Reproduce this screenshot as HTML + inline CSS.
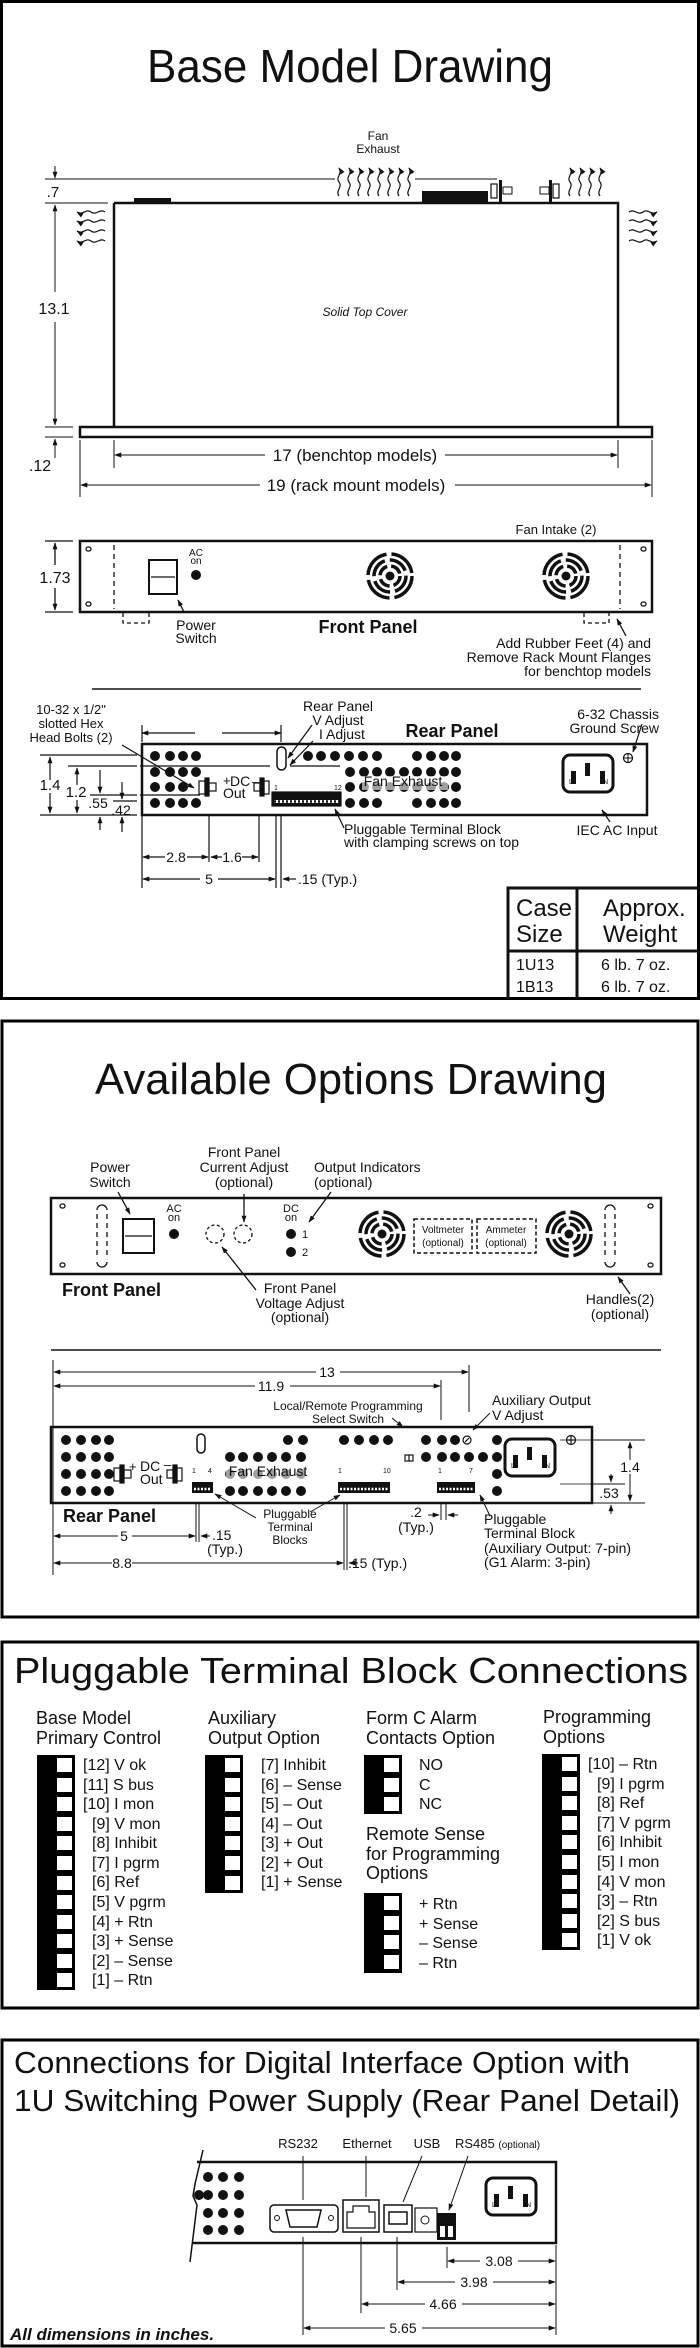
<!DOCTYPE html>
<html><head><meta charset="utf-8"><style>html,body{margin:0;padding:0;background:#fff}svg{display:block}</style></head><body>
<svg width="700" height="2348" viewBox="0 0 700 2348" xmlns="http://www.w3.org/2000/svg" font-family="Liberation Sans, sans-serif" fill="#111">
<defs>
<marker id="a" viewBox="0 0 10 10" refX="9" refY="5" markerWidth="7" markerHeight="7" orient="auto-start-reverse" markerUnits="userSpaceOnUse"><path d="M0,1.5 L10,5 L0,8.5 z" fill="#111"/></marker>
<g id="fan"><circle r="4.5" fill="#111"/><circle r="10" fill="none" stroke="#111" stroke-width="3.5" stroke-dasharray="12 4"/><circle r="16" fill="none" stroke="#111" stroke-width="3.5" stroke-dasharray="20 5"/><circle r="22" fill="none" stroke="#111" stroke-width="3.5" stroke-dasharray="30 5"/></g>
<path id="wu" d="M0,30 c-4,-5 4,-9 0,-14 c-4,-5 4,-8 0,-14" fill="none" stroke="#111" stroke-width="1.2" marker-end="url(#a)"/>
<path id="wl" d="M30,0 c-5,-4 -9,4 -14,0 c-5,-4 -8,4 -14,0" fill="none" stroke="#111" stroke-width="1.2" marker-end="url(#a)"/>
<path id="wr" d="M0,0 c5,-4 9,4 14,0 c5,-4 8,4 14,0" fill="none" stroke="#111" stroke-width="1.2" marker-end="url(#a)"/>
<g id="iec"><rect x="0" y="0" width="50" height="37" rx="7" fill="none" stroke="#111" stroke-width="3"/><rect x="8" y="16" width="5" height="13" fill="#111"/><rect x="22" y="8" width="5" height="13" fill="#111"/><rect x="37" y="16" width="5" height="13" fill="#111"/><text x="6" y="29" font-size="7">L</text><text x="40" y="29" font-size="7">N</text></g>
</defs>

<!-- ============ SECTION 1 ============ -->
<rect x="1.5" y="1.5" width="697" height="997" fill="none" stroke="#000" stroke-width="3"/>
<text x="350" y="82" font-size="46" text-anchor="middle" textLength="406" lengthAdjust="spacingAndGlyphs">Base Model Drawing</text>

<text x="378" y="140" font-size="12" text-anchor="middle">Fan</text>
<text x="378" y="153" font-size="12" text-anchor="middle">Exhaust</text>
<g>
<use href="#wu" x="339" y="166"/><use href="#wu" x="349" y="166"/><use href="#wu" x="359" y="166"/><use href="#wu" x="369" y="166"/><use href="#wu" x="379" y="166"/><use href="#wu" x="389" y="166"/><use href="#wu" x="399" y="166"/><use href="#wu" x="409" y="166"/>
<use href="#wu" x="570" y="166"/><use href="#wu" x="580" y="166"/><use href="#wu" x="590" y="166"/><use href="#wu" x="600" y="166"/>
<use href="#wl" x="75" y="212"/><use href="#wl" x="75" y="221"/><use href="#wl" x="75" y="231"/><use href="#wl" x="75" y="241"/>
<use href="#wr" x="629" y="212"/><use href="#wr" x="629" y="221"/><use href="#wr" x="629" y="231"/><use href="#wr" x="629" y="241"/>
</g>
<path d="M114,203 H618 V427 M114,203 V427 M80,427 H652 V437 H80 Z" fill="none" stroke="#111" stroke-width="2.5"/>
<rect x="134" y="198" width="37" height="5"/><rect x="422" y="191" width="66" height="12"/>
<rect x="491" y="184" width="6" height="14" fill="none" stroke="#111" stroke-width="1.2"/><rect x="499" y="180" width="3" height="23"/><rect x="503" y="187" width="9" height="7" fill="none" stroke="#111"/>
<rect x="540" y="187" width="9" height="7" fill="none" stroke="#111"/><rect x="549" y="180" width="3" height="23"/><rect x="553" y="184" width="6" height="14" fill="none" stroke="#111" stroke-width="1.2"/>
<text x="365" y="316" font-size="12" font-style="italic" text-anchor="middle">Solid Top Cover</text>
<g stroke="#111" stroke-width="1" fill="none">
<path d="M45,179 H335 M415,179 H497 M45,203 H108 M45,427 H73 M45,437 H73"/>
<path d="M55,166 V178" marker-end="url(#a)"/>
<path d="M55,205 V292 M55,322 V425" marker-start="url(#a)" marker-end="url(#a)"/>
<path d="M55,458 V439" marker-end="url(#a)"/>
<path d="M80,440 V497 M114,440 V468 M618,440 V468 M652,440 V497"/>
<path d="M115,455 H265 M445,455 H617" marker-start="url(#a)"/>
<path d="M445,455 H617" marker-end="url(#a)"/>
<path d="M81,485 H260 M455,485 H651" marker-start="url(#a)"/>
<path d="M455,485 H651" marker-end="url(#a)"/>
</g>
<text x="53" y="197" font-size="15" text-anchor="middle">.7</text>
<text x="54" y="314" font-size="16" text-anchor="middle">13.1</text>
<text x="40" y="471" font-size="16" text-anchor="middle">.12</text>
<text x="355" y="461" font-size="17" text-anchor="middle">17 (benchtop models)</text>
<text x="356" y="491" font-size="17" text-anchor="middle">19 (rack mount models)</text>

<!-- Front panel -->
<text x="556" y="534" font-size="13" text-anchor="middle">Fan Intake (2)</text>
<rect x="80" y="541" width="572" height="71" fill="none" stroke="#111" stroke-width="2.5"/>
<g fill="none" stroke="#111" stroke-width="1.3">
<rect x="86" y="547" width="5" height="4" rx="2"/><rect x="86" y="602" width="5" height="4" rx="2"/><rect x="641" y="547" width="5" height="4" rx="2"/><rect x="641" y="602" width="5" height="4" rx="2"/>
<path d="M114,545 V609 M620,545 V609" stroke-dasharray="5 4"/>
<path d="M123,613 V623 H149 V613 M584,613 V623 H609 V613" stroke-dasharray="4 3"/>
<rect x="149" y="560" width="28" height="34" stroke-width="2"/><path d="M151,577 H175"/>
<path d="M45,541 H73 M45,612 H73"/>
<path d="M55,543 V565 M55,588 V610" marker-start="url(#a)" marker-end="url(#a)"/>
<path d="M184,612 L178,600" marker-end="url(#a)"/>
<path d="M626,636 L617,619" marker-end="url(#a)"/>
</g>
<text x="55" y="583" font-size="16" text-anchor="middle">1.73</text>
<text x="196" y="556" font-size="10" text-anchor="middle">AC</text><text x="196" y="564" font-size="10" text-anchor="middle">on</text>
<circle cx="196" cy="575" r="5"/>
<use href="#fan" x="390" y="576"/><use href="#fan" x="566" y="576"/>
<text x="196" y="630" font-size="14" text-anchor="middle">Power</text><text x="196" y="643" font-size="14" text-anchor="middle">Switch</text>
<text x="368" y="633" font-size="18" font-weight="bold" text-anchor="middle">Front Panel</text>
<text x="651" y="648" font-size="14" text-anchor="end">Add Rubber Feet (4) and</text>
<text x="651" y="662" font-size="14" text-anchor="end">Remove Rack Mount Flanges</text>
<text x="651" y="676" font-size="14" text-anchor="end">for benchtop models</text>
<path d="M92,689 H641" stroke="#111" stroke-width="1.5"/>

<!-- Rear panel -->
<text x="71" y="714" font-size="13" text-anchor="middle">10-32 x 1/2"</text>
<text x="71" y="728" font-size="13" text-anchor="middle">slotted Hex</text>
<text x="71" y="742" font-size="13" text-anchor="middle">Head Bolts (2)</text>
<text x="338" y="711" font-size="14" text-anchor="middle">Rear Panel</text>
<text x="338" y="725" font-size="14" text-anchor="middle">V Adjust</text>
<text x="342" y="739" font-size="14" text-anchor="middle">I Adjust</text>
<text x="452" y="737" font-size="18" font-weight="bold" text-anchor="middle">Rear Panel</text>
<text x="659" y="719" font-size="14" text-anchor="end">6-32 Chassis</text>
<text x="659" y="733" font-size="14" text-anchor="end">Ground Screw</text>
<rect x="142" y="744" width="505" height="71" fill="none" stroke="#111" stroke-width="2.5"/>
<g>
<circle cx="155" cy="756" r="5"/><circle cx="170" cy="756" r="5"/><circle cx="183" cy="756" r="5"/><circle cx="196" cy="756" r="5"/>
<circle cx="155" cy="772" r="5"/><circle cx="170" cy="772" r="5"/><circle cx="183" cy="772" r="5"/><circle cx="196" cy="772" r="5"/>
<circle cx="155" cy="787" r="5"/><circle cx="170" cy="787" r="5"/><circle cx="183" cy="787" r="5"/>
<circle cx="155" cy="803" r="5"/><circle cx="170" cy="803" r="5"/><circle cx="183" cy="803" r="5"/><circle cx="196" cy="803" r="5"/>
<circle cx="308" cy="756" r="5"/><circle cx="321" cy="756" r="5"/><circle cx="335" cy="756" r="5"/><circle cx="349" cy="756" r="5"/><circle cx="363" cy="756" r="5"/><circle cx="377" cy="756" r="5"/>
<circle cx="417" cy="756" r="5"/><circle cx="431" cy="756" r="5"/><circle cx="444" cy="756" r="5"/><circle cx="456" cy="756" r="5"/>
<circle cx="350" cy="772" r="5"/><circle cx="364" cy="772" r="5"/><circle cx="377" cy="772" r="5"/><circle cx="390" cy="772" r="5"/><circle cx="404" cy="772" r="5"/><circle cx="417" cy="772" r="5"/><circle cx="431" cy="772" r="5"/><circle cx="444" cy="772" r="5"/><circle cx="456" cy="772" r="5"/>
<circle cx="350" cy="787" r="5"/><circle cx="364" cy="787" r="5"/><circle cx="377" cy="787" r="5"/><circle cx="390" cy="787" r="5"/><circle cx="404" cy="787" r="5"/><circle cx="417" cy="787" r="5"/><circle cx="431" cy="787" r="5"/><circle cx="444" cy="787" r="5"/><circle cx="456" cy="787" r="5"/>
<circle cx="350" cy="803" r="5"/><circle cx="364" cy="803" r="5"/><circle cx="377" cy="803" r="5"/>
<circle cx="417" cy="803" r="5"/><circle cx="431" cy="803" r="5"/><circle cx="444" cy="803" r="5"/><circle cx="456" cy="803" r="5"/>
</g>
<rect x="362" y="776" width="86" height="14" fill="#fff" opacity="0.6"/>
<text x="403" y="786" font-size="14" text-anchor="middle">Fan Exhaust</text>
<g fill="none" stroke="#111" stroke-width="1.2">
<rect x="277" y="747" width="9" height="23" rx="4.5" stroke-width="1.5"/>
<rect x="199" y="781" width="6" height="13"/><rect x="205" y="778" width="4" height="18" fill="#111"/><rect x="209" y="783" width="7" height="8"/>
<rect x="254" y="783" width="6" height="8"/><rect x="260" y="778" width="4" height="18" fill="#111"/><rect x="264" y="781" width="5" height="13"/>
<rect x="272" y="792" width="69" height="14" fill="#111"/>
<path d="M140,766 H270 M140,795 H200 M290,766 H340"/>
<path d="M40,755 H137 M68,766 H137 M90,795 H137 M113,801 H137 M40,815 H137"/>
<path d="M50,757 V780 M50,793 V813" marker-start="url(#a)" marker-end="url(#a)"/>
<path d="M77,768 V785 M77,800 V813" marker-start="url(#a)" marker-end="url(#a)"/>
<path d="M100,770 V793" marker-end="url(#a)"/><path d="M100,830 V817" marker-end="url(#a)"/>
<path d="M122,782 V799" marker-end="url(#a)"/><path d="M122,832 V817" marker-end="url(#a)"/>
<path d="M122,745 L194,788" marker-end="url(#a)"/>
<path d="M142,733 H195 M222,733 H281" marker-start="url(#a)" marker-end="url(#a)"/>
<path d="M142,725 V742 M281,725 V742"/>
<path d="M312,725 L288,758" marker-end="url(#a)"/>
<path d="M313,741 L290,765" marker-end="url(#a)"/>
<path d="M642,724 L633,752" marker-end="url(#a)"/>
<path d="M610,822 L602,810" marker-end="url(#a)"/>
<path d="M344,828 L335,809" marker-end="url(#a)"/>
<path d="M142,816 V888 M209,816 V862 M259,816 V862 M276,816 V888 M281,816 V888"/>
<path d="M143,857 H165 M187,857 H208" marker-start="url(#a)" marker-end="url(#a)"/>
<path d="M211,857 H222 M242,857 H258" marker-start="url(#a)" marker-end="url(#a)"/>
<path d="M143,879 H200 M218,879 H275" marker-start="url(#a)" marker-end="url(#a)"/>
<path d="M296,879 H283" marker-end="url(#a)"/>
</g>
<g fill="#fff"><rect x="274" y="800" width="65" height="3"/></g>
<path d="M274,801.5 H339" stroke="#111" stroke-width="2.5" stroke-dasharray="2 2"/>
<text x="274" y="790" font-size="7">1</text><text x="334" y="790" font-size="7">12</text>
<text x="223" y="785" font-size="13">+</text><text x="230" y="786" font-size="14">DC</text><text x="252" y="786" font-size="13">–</text>
<text x="223" y="798" font-size="14">Out</text>
<use href="#iec" x="563" y="755"/>
<circle cx="628" cy="758" r="4.5" fill="none" stroke="#111" stroke-width="1.2"/><path d="M624,758 H632 M628,754 V762" stroke="#111"/>
<text x="50" y="790" font-size="15" text-anchor="middle">1.4</text>
<text x="76" y="797" font-size="15" text-anchor="middle">1.2</text>
<text x="98" y="808" font-size="14" text-anchor="middle">.55</text>
<text x="121" y="815" font-size="14" text-anchor="middle">.42</text>
<text x="344" y="834" font-size="14">Pluggable Terminal Block</text>
<text x="344" y="847" font-size="14">with clamping screws on top</text>
<text x="617" y="835" font-size="14" text-anchor="middle">IEC AC Input</text>
<text x="176" y="862" font-size="14" text-anchor="middle">2.8</text>
<text x="232" y="862" font-size="14" text-anchor="middle">1.6</text>
<text x="209" y="884" font-size="14" text-anchor="middle">5</text>
<text x="298" y="884" font-size="14">.15 (Typ.)</text>
<g stroke="#111" stroke-width="3" fill="none"><path d="M508,999 V888 H699 M577,888 V999 M508,951 H699"/></g>
<text x="516" y="916" font-size="24">Case</text><text x="516" y="942" font-size="24">Size</text>
<text x="603" y="916" font-size="24">Approx.</text><text x="603" y="942" font-size="24">Weight</text>
<text x="516" y="970" font-size="16">1U13</text><text x="516" y="992" font-size="16">1B13</text>
<text x="601" y="970" font-size="16">6 lb. 7 oz.</text><text x="601" y="992" font-size="16">6 lb. 7 oz.</text>

<!-- ============ SECTION 2 ============ -->
<rect x="2" y="1021" width="696" height="596" fill="none" stroke="#000" stroke-width="3"/>
<text x="351" y="1094" font-size="44" text-anchor="middle" textLength="512" lengthAdjust="spacingAndGlyphs">Available Options Drawing</text>
<text x="110" y="1172" font-size="14" text-anchor="middle">Power</text><text x="110" y="1187" font-size="14" text-anchor="middle">Switch</text>
<text x="244" y="1157" font-size="14" text-anchor="middle">Front Panel</text><text x="244" y="1172" font-size="14" text-anchor="middle">Current Adjust</text><text x="244" y="1187" font-size="14" text-anchor="middle">(optional)</text>
<text x="314" y="1172" font-size="14">Output Indicators</text><text x="314" y="1187" font-size="14">(optional)</text>
<rect x="51" y="1198" width="610" height="76" fill="none" stroke="#111" stroke-width="2.5"/>
<g fill="none" stroke="#111" stroke-width="1.3">
<rect x="60" y="1204" width="5" height="4" rx="2"/><rect x="60" y="1263" width="5" height="4" rx="2"/><rect x="648" y="1204" width="5" height="4" rx="2"/><rect x="648" y="1263" width="5" height="4" rx="2"/>
<path d="M97,1210 a5,5 0 0 1 10,0 M97,1262 a5,5 0 0 0 10,0 M605,1210 a5,5 0 0 1 10,0 M605,1262 a5,5 0 0 0 10,0"/>
<path d="M97,1214 V1259 M107,1214 V1259 M605,1214 V1259 M615,1214 V1259" stroke-dasharray="5 4"/>
<rect x="123" y="1219" width="31" height="34" stroke-width="2"/><path d="M125,1236 H152"/>
<circle cx="215" cy="1234" r="9" stroke-dasharray="3 2.5"/><circle cx="243" cy="1234" r="9" stroke-dasharray="3 2.5"/>
<rect x="414" y="1219" width="58" height="34" stroke-width="1.5" stroke-dasharray="4 2.5"/>
<rect x="477" y="1219" width="59" height="34" stroke-width="1.5" stroke-dasharray="4 2.5"/>
<path d="M118,1192 L130,1214" marker-end="url(#a)"/>
<path d="M244,1194 L244,1222" marker-end="url(#a)"/>
<path d="M331,1192 L309,1222" marker-end="url(#a)"/>
<path d="M256,1290 L222,1247" marker-end="url(#a)"/>
<path d="M630,1294 L618,1277" marker-end="url(#a)"/>
</g>
<text x="174" y="1212" font-size="11" text-anchor="middle">AC</text><text x="174" y="1221" font-size="11" text-anchor="middle">on</text>
<circle cx="174" cy="1234" r="5"/>
<text x="291" y="1212" font-size="11" text-anchor="middle">DC</text><text x="291" y="1221" font-size="11" text-anchor="middle">on</text>
<circle cx="291" cy="1234" r="5"/><circle cx="291" cy="1252" r="5"/>
<text x="302" y="1238" font-size="11">1</text><text x="302" y="1256" font-size="11">2</text>
<use href="#fan" x="382" y="1234"/><use href="#fan" x="569" y="1234"/>
<text x="443" y="1233" font-size="10" text-anchor="middle">Voltmeter</text><text x="443" y="1246" font-size="10" text-anchor="middle">(optional)</text>
<text x="506" y="1233" font-size="10" text-anchor="middle">Ammeter</text><text x="506" y="1246" font-size="10" text-anchor="middle">(optional)</text>
<text x="62" y="1296" font-size="18" font-weight="bold">Front Panel</text>
<text x="300" y="1293" font-size="14" text-anchor="middle">Front Panel</text><text x="300" y="1308" font-size="14" text-anchor="middle">Voltage Adjust</text><text x="300" y="1322" font-size="14" text-anchor="middle">(optional)</text>
<text x="620" y="1304" font-size="14" text-anchor="middle">Handles(2)</text><text x="620" y="1319" font-size="14" text-anchor="middle">(optional)</text>
<path d="M51,1350 H661" stroke="#111" stroke-width="1.5"/>

<g fill="none" stroke="#111" stroke-width="1">
<path d="M53,1360 V1575 M441,1380 V1420 M469,1365 V1412"/>
<path d="M54,1372 H316 M340,1372 H468" marker-start="url(#a)" marker-end="url(#a)"/>
<path d="M54,1386 H255 M290,1386 H440" marker-start="url(#a)" marker-end="url(#a)"/>
<path d="M392,1418 L403,1427" marker-end="url(#a)"/>
<path d="M490,1413 L473,1430" marker-end="url(#a)"/>
<path d="M592,1440 H645 M590,1484 H625 M592,1503 H645"/>
<path d="M630,1442 V1460 M630,1474 V1501" marker-start="url(#a)" marker-end="url(#a)"/>
<path d="M611,1474 V1482" marker-end="url(#a)"/><path d="M611,1514 V1505" marker-end="url(#a)"/>
<path d="M196,1504 V1542 M199,1504 V1542 M344,1504 V1570 M347,1504 V1570 M441,1504 V1520 M446,1504 V1520"/>
<path d="M54,1536 H118 M132,1536 H195" marker-start="url(#a)" marker-end="url(#a)"/>
<path d="M210,1536 H201" marker-end="url(#a)"/>
<path d="M54,1563 H112 M132,1563 H343" marker-start="url(#a)" marker-end="url(#a)"/>
<path d="M358,1563 H349" marker-end="url(#a)"/>
<path d="M428,1515 H439" marker-end="url(#a)"/><path d="M458,1515 H448" marker-end="url(#a)"/>
<path d="M256,1518 L215,1494" marker-end="url(#a)"/>
<path d="M310,1512 L340,1495" marker-end="url(#a)"/>
<path d="M490,1516 L480,1495" marker-end="url(#a)"/>
</g>
<text x="327" y="1377" font-size="14" text-anchor="middle">13</text>
<text x="271" y="1391" font-size="14" text-anchor="middle">11.9</text>
<text x="348" y="1410" font-size="12" text-anchor="middle">Local/Remote Programming</text>
<text x="348" y="1423" font-size="12" text-anchor="middle">Select Switch</text>
<text x="492" y="1405" font-size="14">Auxiliary Output</text><text x="492" y="1420" font-size="14">V Adjust</text>
<rect x="51" y="1427" width="541" height="76" fill="none" stroke="#111" stroke-width="2.5"/>
<g>
<circle cx="66" cy="1440" r="5"/><circle cx="81" cy="1440" r="5"/><circle cx="96" cy="1440" r="5"/><circle cx="109" cy="1440" r="5"/>
<circle cx="66" cy="1457" r="5"/><circle cx="81" cy="1457" r="5"/><circle cx="96" cy="1457" r="5"/><circle cx="109" cy="1457" r="5"/>
<circle cx="66" cy="1474" r="5"/><circle cx="81" cy="1474" r="5"/><circle cx="96" cy="1474" r="5"/><circle cx="109" cy="1474" r="5"/>
<circle cx="66" cy="1491" r="5"/><circle cx="81" cy="1491" r="5"/><circle cx="96" cy="1491" r="5"/><circle cx="109" cy="1491" r="5"/>
<circle cx="288" cy="1440" r="5"/><circle cx="303" cy="1440" r="5"/>
<circle cx="344" cy="1440" r="5"/><circle cx="359" cy="1440" r="5"/><circle cx="374" cy="1440" r="5"/><circle cx="388" cy="1440" r="5"/>
<circle cx="426" cy="1440" r="5"/><circle cx="442" cy="1440" r="5"/><circle cx="455" cy="1440" r="5"/><circle cx="497" cy="1440" r="5"/>
<circle cx="230" cy="1457" r="5"/><circle cx="243" cy="1457" r="5"/><circle cx="258" cy="1457" r="5"/><circle cx="272" cy="1457" r="5"/><circle cx="286" cy="1457" r="5"/><circle cx="301" cy="1457" r="5"/>
<circle cx="426" cy="1457" r="5"/><circle cx="442" cy="1457" r="5"/><circle cx="455" cy="1457" r="5"/><circle cx="469" cy="1457" r="5"/><circle cx="483" cy="1457" r="5"/><circle cx="497" cy="1457" r="5"/>
<circle cx="230" cy="1474" r="5"/><circle cx="243" cy="1474" r="5"/><circle cx="258" cy="1474" r="5"/><circle cx="272" cy="1474" r="5"/><circle cx="286" cy="1474" r="5"/><circle cx="301" cy="1474" r="5"/><circle cx="497" cy="1474" r="5"/>
<circle cx="230" cy="1491" r="5"/><circle cx="243" cy="1491" r="5"/><circle cx="258" cy="1491" r="5"/><circle cx="272" cy="1491" r="5"/><circle cx="286" cy="1491" r="5"/><circle cx="301" cy="1491" r="5"/><circle cx="497" cy="1491" r="5"/>
</g>
<rect x="226" y="1465" width="84" height="14" fill="#fff" opacity="0.6"/>
<text x="268" y="1476" font-size="14" text-anchor="middle">Fan Exhaust</text>
<g fill="none" stroke="#111" stroke-width="1.2">
<rect x="197" y="1434" width="8" height="19" rx="4" stroke-width="1.5"/>
<rect x="114" y="1468" width="6" height="13"/><rect x="120" y="1465" width="4" height="18" fill="#111"/><rect x="124" y="1470" width="7" height="8"/>
<rect x="167" y="1470" width="6" height="8"/><rect x="173" y="1465" width="4" height="18" fill="#111"/><rect x="177" y="1468" width="5" height="13"/>
<rect x="405" y="1455" width="8" height="6"/><path d="M409,1455 V1461"/>
<circle cx="467" cy="1440" r="4"/><path d="M465,1442 L469,1438"/>
<path d="M560,1440 H592 M560,1484 H592" stroke-width="0.7"/>
<circle cx="571" cy="1440" r="4.5"/><path d="M567,1440 H575 M571,1436 V1444"/>
</g>
<rect x="192" y="1482" width="21" height="11"/><rect x="338" y="1482" width="52" height="11"/><rect x="437" y="1482" width="38" height="11"/>
<path d="M194,1489 H211 M340,1489 H388 M439,1489 H473" stroke="#fff" stroke-width="2.5" stroke-dasharray="2 1.5"/>
<text x="192" y="1473" font-size="7">1</text><text x="208" y="1473" font-size="7">4</text>
<text x="338" y="1473" font-size="7">1</text><text x="383" y="1473" font-size="7">10</text>
<text x="438" y="1473" font-size="7">1</text><text x="469" y="1473" font-size="7">7</text>
<text x="129" y="1471" font-size="13">+</text><text x="140" y="1471" font-size="14">DC</text><text x="164" y="1469" font-size="13">–</text>
<text x="140" y="1484" font-size="14">Out</text>
<use href="#iec" x="505" y="1439"/>
<text x="630" y="1472" font-size="14" text-anchor="middle">1.4</text>
<text x="609" y="1498" font-size="14" text-anchor="middle">.53</text>
<text x="63" y="1522" font-size="18" font-weight="bold">Rear Panel</text>
<text x="124" y="1541" font-size="14" text-anchor="middle">5</text>
<text x="212" y="1540" font-size="14">.15</text><text x="225" y="1554" font-size="14" text-anchor="middle">(Typ.)</text>
<text x="122" y="1568" font-size="14" text-anchor="middle">8.8</text>
<text x="348" y="1568" font-size="14">.15 (Typ.)</text>
<text x="290" y="1518" font-size="12" text-anchor="middle">Pluggable</text><text x="290" y="1531" font-size="12" text-anchor="middle">Terminal</text><text x="290" y="1544" font-size="12" text-anchor="middle">Blocks</text>
<text x="416" y="1517" font-size="14" text-anchor="middle">.2</text><text x="416" y="1532" font-size="14" text-anchor="middle">(Typ.)</text>
<text x="484" y="1524" font-size="14">Pluggable</text><text x="484" y="1538" font-size="14">Terminal Block</text>
<text x="484" y="1553" font-size="14">(Auxiliary Output: 7-pin)</text><text x="484" y="1567" font-size="14">(G1 Alarm: 3-pin)</text>

<!-- ============ SECTION 3 ============ -->
<rect x="2" y="1642" width="696" height="366" fill="none" stroke="#000" stroke-width="3"/>
<text x="14" y="1683" font-size="36" textLength="674" lengthAdjust="spacingAndGlyphs">Pluggable Terminal Block Connections</text>
<g font-size="18">
<text x="36" y="1724">Base Model</text><text x="36" y="1744">Primary Control</text>
<text x="208" y="1724">Auxiliary</text><text x="208" y="1744">Output Option</text>
<text x="366" y="1724">Form C Alarm</text><text x="366" y="1744">Contacts Option</text>
<text x="543" y="1723">Programming</text><text x="543" y="1743">Options</text>
<text x="366" y="1840">Remote Sense</text><text x="366" y="1860">for Programming</text><text x="366" y="1879">Options</text>
</g>
<g fill="#000">
<rect x="37" y="1755" width="38" height="235"/><rect x="205" y="1755" width="38" height="138"/>
<rect x="364" y="1755" width="38" height="59"/><rect x="364" y="1893" width="38" height="80"/>
<rect x="542" y="1754" width="38" height="196"/>
</g>
<g fill="#fff">
<rect x="57" y="1758" width="15" height="14"/><rect x="57" y="1778" width="15" height="14"/><rect x="57" y="1797" width="15" height="14"/><rect x="57" y="1817" width="15" height="14"/><rect x="57" y="1836" width="15" height="14"/><rect x="57" y="1856" width="15" height="14"/><rect x="57" y="1876" width="15" height="14"/><rect x="57" y="1895" width="15" height="14"/><rect x="57" y="1915" width="15" height="14"/><rect x="57" y="1934" width="15" height="14"/><rect x="57" y="1954" width="15" height="14"/><rect x="57" y="1973" width="15" height="14"/>
<rect x="225" y="1758" width="15" height="14"/><rect x="225" y="1778" width="15" height="14"/><rect x="225" y="1797" width="15" height="14"/><rect x="225" y="1817" width="15" height="14"/><rect x="225" y="1836" width="15" height="14"/><rect x="225" y="1856" width="15" height="14"/><rect x="225" y="1876" width="15" height="14"/>
<rect x="384" y="1758" width="15" height="14"/><rect x="384" y="1778" width="15" height="14"/><rect x="384" y="1797" width="15" height="14"/>
<rect x="384" y="1896" width="15" height="14"/><rect x="384" y="1916" width="15" height="14"/><rect x="384" y="1935" width="15" height="14"/><rect x="384" y="1955" width="15" height="14"/>
<rect x="562" y="1757" width="15" height="14"/><rect x="562" y="1777" width="15" height="14"/><rect x="562" y="1796" width="15" height="14"/><rect x="562" y="1816" width="15" height="14"/><rect x="562" y="1835" width="15" height="14"/><rect x="562" y="1855" width="15" height="14"/><rect x="562" y="1875" width="15" height="14"/><rect x="562" y="1894" width="15" height="14"/><rect x="562" y="1914" width="15" height="14"/><rect x="562" y="1933" width="15" height="14"/>
</g>
<g font-size="16">
<text x="83" y="1770">[12] V ok</text><text x="83" y="1790">[11] S bus</text><text x="83" y="1809">[10] I mon</text>
<text x="92" y="1829">[9] V mon</text><text x="92" y="1848">[8] Inhibit</text><text x="92" y="1868">[7] I pgrm</text><text x="92" y="1887">[6] Ref</text><text x="92" y="1907">[5] V pgrm</text><text x="92" y="1927">[4] + Rtn</text><text x="92" y="1946">[3] + Sense</text><text x="92" y="1966">[2] – Sense</text><text x="92" y="1985">[1] – Rtn</text>
<text x="261" y="1770">[7] Inhibit</text><text x="261" y="1790">[6] – Sense</text><text x="261" y="1809">[5] – Out</text><text x="261" y="1829">[4] – Out</text><text x="261" y="1848">[3] + Out</text><text x="261" y="1868">[2] + Out</text><text x="261" y="1887">[1] + Sense</text>
<text x="419" y="1770">NO</text><text x="419" y="1790">C</text><text x="419" y="1809">NC</text>
<text x="419" y="1909">+ Rtn</text><text x="419" y="1929">+ Sense</text><text x="419" y="1948">– Sense</text><text x="419" y="1968">– Rtn</text>
<text x="588" y="1769">[10] – Rtn</text><text x="597" y="1789">[9] I pgrm</text><text x="597" y="1808">[8] Ref</text><text x="597" y="1828">[7] V pgrm</text><text x="597" y="1847">[6] Inhibit</text><text x="597" y="1867">[5] I mon</text><text x="597" y="1887">[4] V mon</text><text x="597" y="1906">[3] – Rtn</text><text x="597" y="1926">[2] S bus</text><text x="597" y="1945">[1] V ok</text>
</g>

<!-- ============ SECTION 4 ============ -->
<rect x="2" y="2040" width="696" height="306" fill="none" stroke="#000" stroke-width="3"/>
<text x="14" y="2073" font-size="31" textLength="616" lengthAdjust="spacingAndGlyphs">Connections for Digital Interface Option with</text>
<text x="14" y="2111" font-size="31" textLength="666" lengthAdjust="spacingAndGlyphs">1U Switching Power Supply (Rear Panel Detail)</text>
<text x="298" y="2148" font-size="13" text-anchor="middle">RS232</text>
<text x="367" y="2148" font-size="13" text-anchor="middle">Ethernet</text>
<text x="427" y="2148" font-size="13" text-anchor="middle">USB</text>
<text x="455" y="2148" font-size="13">RS485 <tspan font-size="10">(optional)</tspan></text>
<g fill="none" stroke="#111">
<path d="M197,2162 H556 V2243 H193" stroke-width="2.5"/>
<path d="M203,2150 L195,2184 L193,2196 L197,2205 L190,2262" stroke-width="1.5"/>
<rect x="270" y="2205" width="68" height="27" rx="4" stroke-width="1.5"/>
<path d="M286,2210 H321 L317,2227 H290 Z" stroke-width="1.5"/>
<circle cx="277" cy="2218" r="2.5"/><circle cx="331" cy="2218" r="2.5"/>
<rect x="343" y="2200" width="36" height="32" stroke-width="1.5"/><path d="M347,2228 V2212 H353 V2206 H369 V2212 H375 V2228 Z" stroke-width="1.2"/>
<rect x="384" y="2205" width="28" height="27" stroke-width="1.5"/><rect x="389" y="2212" width="18" height="12" stroke-width="1.5"/>
<rect x="415" y="2208" width="22" height="24" stroke-width="1.2"/><circle cx="425" cy="2220" r="4"/>
<path d="M303,2156 V2200 M366,2156 V2197 M422,2156 L403,2202 M468,2156 L449,2210" stroke-width="1" marker-end="url(#a)"/>
<path d="M303,2237 V2335 M361,2237 V2313 M397,2237 V2290 M447,2247 V2268 M556,2245 V2335" stroke-width="1"/>
<path d="M448,2261 H480 M518,2261 H555" stroke-width="1" marker-start="url(#a)" marker-end="url(#a)"/>
<path d="M398,2282 H455 M493,2282 H555" stroke-width="1" marker-start="url(#a)" marker-end="url(#a)"/>
<path d="M362,2304 H425 M462,2304 H555" stroke-width="1" marker-start="url(#a)" marker-end="url(#a)"/>
<path d="M304,2328 H385 M422,2328 H555" stroke-width="1" marker-start="url(#a)" marker-end="url(#a)"/>
</g>
<rect x="437" y="2213" width="19" height="27"/><rect x="440" y="2226" width="5" height="11" fill="#fff"/><rect x="448" y="2226" width="5" height="11" fill="#fff"/>
<circle cx="208" cy="2177" r="5"/><circle cx="223" cy="2177" r="5"/><circle cx="239" cy="2177" r="5"/>
<circle cx="199" cy="2195" r="5"/><circle cx="208" cy="2195" r="5"/><circle cx="223" cy="2195" r="5"/><circle cx="239" cy="2195" r="5"/>
<circle cx="208" cy="2213" r="5"/><circle cx="223" cy="2213" r="5"/><circle cx="239" cy="2213" r="5"/>
<circle cx="208" cy="2230" r="5"/><circle cx="223" cy="2230" r="5"/><circle cx="239" cy="2230" r="5"/>
<use href="#iec" x="486" y="2178"/>
<text x="499" y="2266" font-size="14" text-anchor="middle">3.08</text>
<text x="474" y="2287" font-size="14" text-anchor="middle">3.98</text>
<text x="443" y="2309" font-size="14" text-anchor="middle">4.66</text>
<text x="403" y="2333" font-size="14" text-anchor="middle">5.65</text>
<text x="10" y="2340" font-size="17" font-weight="bold" font-style="italic">All dimensions in inches.</text>
</svg>
</body></html>
